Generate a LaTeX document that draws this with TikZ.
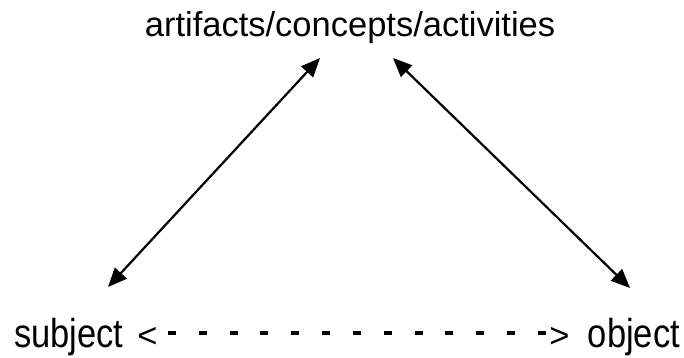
\documentclass[tikz,border=0pt]{standalone}
\usepackage{fontspec}
\setmainfont{Liberation Sans}
\usepackage{graphicx}
\usetikzlibrary{arrows.meta,calc}
\tikzset{
  lbl/.style={inner sep=0pt, outer sep=0pt, font=\fontsize{34.5}{40}\selectfont},
  biarrow/.style={line width=2.2pt, {Triangle[length=19pt,width=16pt]}-{Triangle[length=19pt,width=16pt]}},
  dashlink/.style={line width=4.5pt, line cap=butt, dash pattern=on 8pt off 22.83pt}
}
\begin{document}
\begin{tikzpicture}[x=1pt,y=-1pt]
\path[use as bounding box] (0,0) rectangle (684,358);
\node[lbl, anchor=base] (top) at (350,37) {artifacts/concepts/activities};
\node[lbl, anchor=base west] (subj) at (14,347) {\scalebox{1}[1.17]{subject}};
\node[lbl, anchor=base] (lt) at (147.5,347) {<};
\node[lbl, anchor=base] (gt) at (559.5,347) {>};
\node[lbl, anchor=base east] (obj) at (680,347) {\scalebox{1}[1.17]{object}};
\draw[biarrow] ($(top.base)+(-30,21)$) -- ($(subj.base west)+(94,-60)$);
\draw[biarrow] ($(top.base)+(43,21)$) -- ($(obj.base east)+(-50,-59)$);
\draw[dashlink, shorten <=10.4pt, shorten >=3.5pt] ([yshift=14pt]lt.base east) -- ([yshift=14pt]gt.base west);
\end{tikzpicture}
\end{document}
